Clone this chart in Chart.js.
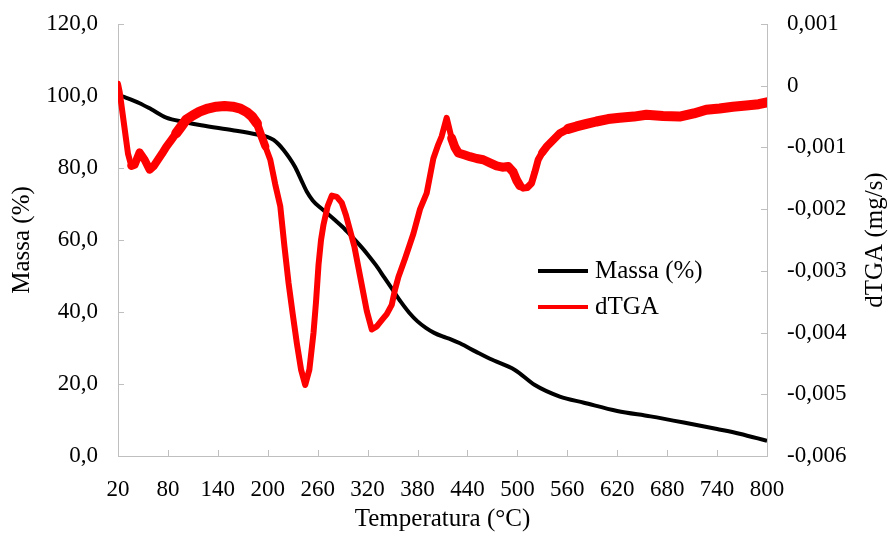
<!DOCTYPE html>
<html>
<head>
<meta charset="utf-8">
<script src="https://cdn.jsdelivr.net/npm/chart.js@4.4.0/dist/chart.umd.min.js"></script>
<style>
  html, body { margin: 0; background: #fff; }
  #wrap { position: relative; width: 889px; height: 533px; }
</style>
</head>
<body>
<div id="wrap"><canvas id="c"></canvas></div>
<script>
// TGA data
const massaTemp = [20, 30, 46, 60, 78, 100, 120, 158, 187, 200, 207, 213, 219, 226, 233, 240, 247, 254, 263, 272, 280, 290, 300, 310, 320, 330, 340, 350, 360, 370, 380, 390, 400, 410, 420, 431, 450, 467, 497, 521, 551, 580, 620, 660, 700, 740, 767, 800];
const massaVals = [100.3, 99.5, 98, 96.3, 94, 92.8, 91.9, 90.5, 89.3, 88.6, 87.8, 86.6, 85, 82.8, 80.2, 76.8, 73.4, 71, 69, 67.3, 65.7, 63.6, 61.2, 58.7, 56, 53, 49.6, 46.2, 42.8, 39.8, 37.4, 35.6, 34.2, 33.2, 32.4, 31.3, 29, 27, 23.9, 19.7, 16.5, 14.8, 12.5, 11, 9.3, 7.5, 6.2, 4.2];

const dtgaTemp = [20, 22, 27, 32, 36, 40, 46, 52, 58, 63, 68, 73, 78, 84, 90, 96, 102, 110, 118, 128, 138, 148, 158, 167, 175, 181, 187, 192, 197, 203, 209, 215, 220, 225, 230, 235, 240, 245, 250, 255, 258, 261, 264, 267, 272, 277, 283, 289, 294, 299, 304, 309, 314, 319, 325, 331, 337, 343, 349, 353, 357, 365, 375, 383, 391, 399, 405, 409, 415, 421, 425, 429, 436, 443, 451, 459, 467, 475, 482, 489, 495, 499, 503, 507, 512, 517, 521, 525, 530, 535, 543, 551, 561, 571, 583, 595, 609, 623, 640, 655, 675, 695, 712, 727, 743, 759, 775, 790, 800];
const dtgaVals = [0.00003, -0.0001, -0.0006, -0.0011, -0.0013, -0.00128, -0.00108, -0.0012, -0.00136, -0.0013, -0.0012, -0.0011, -0.00099, -0.00088, -0.00077, -0.00066, -0.00055, -0.00048, -0.00042, -0.00037, -0.00034, -0.00033, -0.00034, -0.00037, -0.00043, -0.0005, -0.00061, -0.0008, -0.00098, -0.0012, -0.0016, -0.00195, -0.0026, -0.0032, -0.0037, -0.00418, -0.0046, -0.00485, -0.0046, -0.004, -0.0035, -0.0029, -0.0025, -0.00225, -0.00195, -0.00178, -0.0018, -0.0019, -0.0021, -0.00235, -0.0026, -0.00295, -0.0033, -0.00365, -0.00395, -0.0039, -0.0038, -0.0037, -0.00355, -0.0033, -0.0031, -0.0028, -0.0024, -0.002, -0.00174, -0.00118, -0.00095, -0.00082, -0.00052, -0.00085, -0.001, -0.00109, -0.00112, -0.00115, -0.00118, -0.0012, -0.00125, -0.0013, -0.00132, -0.00131, -0.0014, -0.00153, -0.00162, -0.00166, -0.00165, -0.00158, -0.0014, -0.0012, -0.00108, -0.00099, -0.00088, -0.00077, -0.0007, -0.00066, -0.00062, -0.00058, -0.00054, -0.00052, -0.0005, -0.00047, -0.00049, -0.0005, -0.00045, -0.00039, -0.00037, -0.00034, -0.00032, -0.0003, -0.00027];

const xTicks = [20, 80, 140, 200, 260, 320, 380, 440, 500, 560, 620, 680, 740, 800];
const massaTicks = [0, 20, 40, 60, 80, 100, 120];
const dtgaTicks = [-0.006, -0.005, -0.004, -0.003, -0.002, -0.001, 0, 0.001];

const serif = "'Liberation Serif', 'Times New Roman', serif";
const axisGrey = '#bfbfbf';

// the dTGA trace is a noisy band where the signal is flat, thin where it is steep
const bandWidth = t => {
  if (t < 36) return 6;
  if (t < 90) return 8;
  if (t < 187) return 10;
  if (t < 197) return 8;
  if (t < 421) return 6;
  if (t < 500) return 9;
  if (t < 528) return 7;
  if (t < 560) return 8;
  return 10;
};

const decor = {
  id: 'decor',
  beforeDatasetsDraw(chart) {
    const { ctx, chartArea: a, scales } = chart;
    ctx.save();
    ctx.strokeStyle = axisGrey;
    ctx.lineWidth = 1;
    ctx.beginPath();
    scales.x.ticks.forEach(t => {
      const px = Math.round(scales.x.getPixelForValue(t.value)) + 0.5;
      ctx.moveTo(px, a.bottom); ctx.lineTo(px, a.bottom - 6);
    });
    scales.y.ticks.forEach(t => {
      const py = Math.round(scales.y.getPixelForValue(t.value)) + 0.5;
      ctx.moveTo(a.left, py); ctx.lineTo(a.left + 6, py);
    });
    scales.y2.ticks.forEach(t => {
      const py = Math.round(scales.y2.getPixelForValue(t.value)) + 0.5;
      ctx.moveTo(a.right, py); ctx.lineTo(a.right - 6, py);
    });
    ctx.stroke();
    ctx.restore();
  },
  afterDraw(chart) {
    const { ctx, chartArea: a } = chart;
    const midY = (a.top + a.bottom) / 2;
    ctx.save();
    ctx.fillStyle = '#000';
    ctx.font = `25px ${serif}`;
    ctx.textAlign = 'center';
    ctx.textBaseline = 'middle';
    ctx.fillText('Temperatura (°C)', (a.left + a.right) / 2, 519);

    ctx.save();
    ctx.translate(22, midY);
    ctx.rotate(-Math.PI / 2);
    ctx.fillText('Massa (%)', 0, 0);
    ctx.restore();

    ctx.save();
    ctx.translate(875, midY);
    ctx.rotate(-Math.PI / 2);
    ctx.fillText('dTGA (mg/s)', 0, 0);
    ctx.restore();

    // legend inside the plot
    ctx.textAlign = 'left';
    chart.data.datasets.forEach((ds, i) => {
      const y = a.top + 247 + i * 36;
      ctx.strokeStyle = ds.borderColor;
      ctx.lineWidth = 4;
      ctx.beginPath();
      ctx.moveTo(a.left + 420, y); ctx.lineTo(a.left + 470, y);
      ctx.stroke();
      ctx.fillText(ds.label, a.left + 477, y);
    });
    ctx.restore();
  }
};

const noEdgePad = s => { s.paddingTop = 0; s.paddingBottom = 0; };

new Chart(document.getElementById('c'), {
  type: 'line',
  data: {
    datasets: [
      {
        label: 'Massa (%)',
        data: massaTemp.map((t, i) => ({ x: t, y: massaVals[i] })),
        yAxisID: 'y',
        borderColor: '#000000',
        borderWidth: 4,
        pointRadius: 0,
        cubicInterpolationMode: 'monotone',
        order: 1
      },
      {
        label: 'dTGA',
        data: dtgaTemp.map((t, i) => ({ x: t, y: dtgaVals[i] })),
        yAxisID: 'y2',
        borderColor: '#ff0000',
        borderWidth: 6,
        borderJoinStyle: 'round',
        borderCapStyle: 'round',
        segment: { borderWidth: c => bandWidth(c.p0.parsed.x) },
        pointRadius: 0,
        tension: 0,
        order: 0
      }
    ]
  },
  options: {
    responsive: true,
    maintainAspectRatio: false,
    animation: false,
    devicePixelRatio: 1,
    layout: { padding: { top: 24, left: 0, right: 0, bottom: 0 } },
    plugins: { legend: { display: false }, tooltip: { enabled: false } },
    scales: {
      x: {
        type: 'linear',
        min: 20, max: 800,
        afterBuildTicks: s => { s.ticks = xTicks.map(v => ({ value: v })); },
        afterFit: s => { s.height = 77; },
        grid: { display: false, drawTicks: false },
        border: { display: true, color: axisGrey, width: 1 },
        ticks: { padding: 20, maxRotation: 0, autoSkip: false, color: '#000', font: { family: serif, size: 23 } }
      },
      y: {
        position: 'left',
        min: 0, max: 120,
        afterBuildTicks: s => { s.ticks = massaTicks.map(v => ({ value: v })); },
        afterFit: s => { s.width = 118; noEdgePad(s); },
        grid: { display: false, drawTicks: false },
        border: { display: true, color: axisGrey, width: 1 },
        ticks: { padding: 20, color: '#000', font: { family: serif, size: 23 }, callback: v => v.toFixed(1).replace('.', ',') }
      },
      y2: {
        position: 'right',
        min: -0.006, max: 0.001,
        afterBuildTicks: s => { s.ticks = dtgaTicks.map(v => ({ value: v })); },
        afterFit: s => { s.width = 122; noEdgePad(s); },
        grid: { display: false, drawTicks: false },
        border: { display: true, color: axisGrey, width: 1 },
        ticks: { padding: 20, color: '#000', font: { family: serif, size: 23 }, callback: v => v === 0 ? '0' : v.toFixed(3).replace('.', ',') }
      }
    }
  },
  plugins: [decor]
});
</script>
</body>
</html>
